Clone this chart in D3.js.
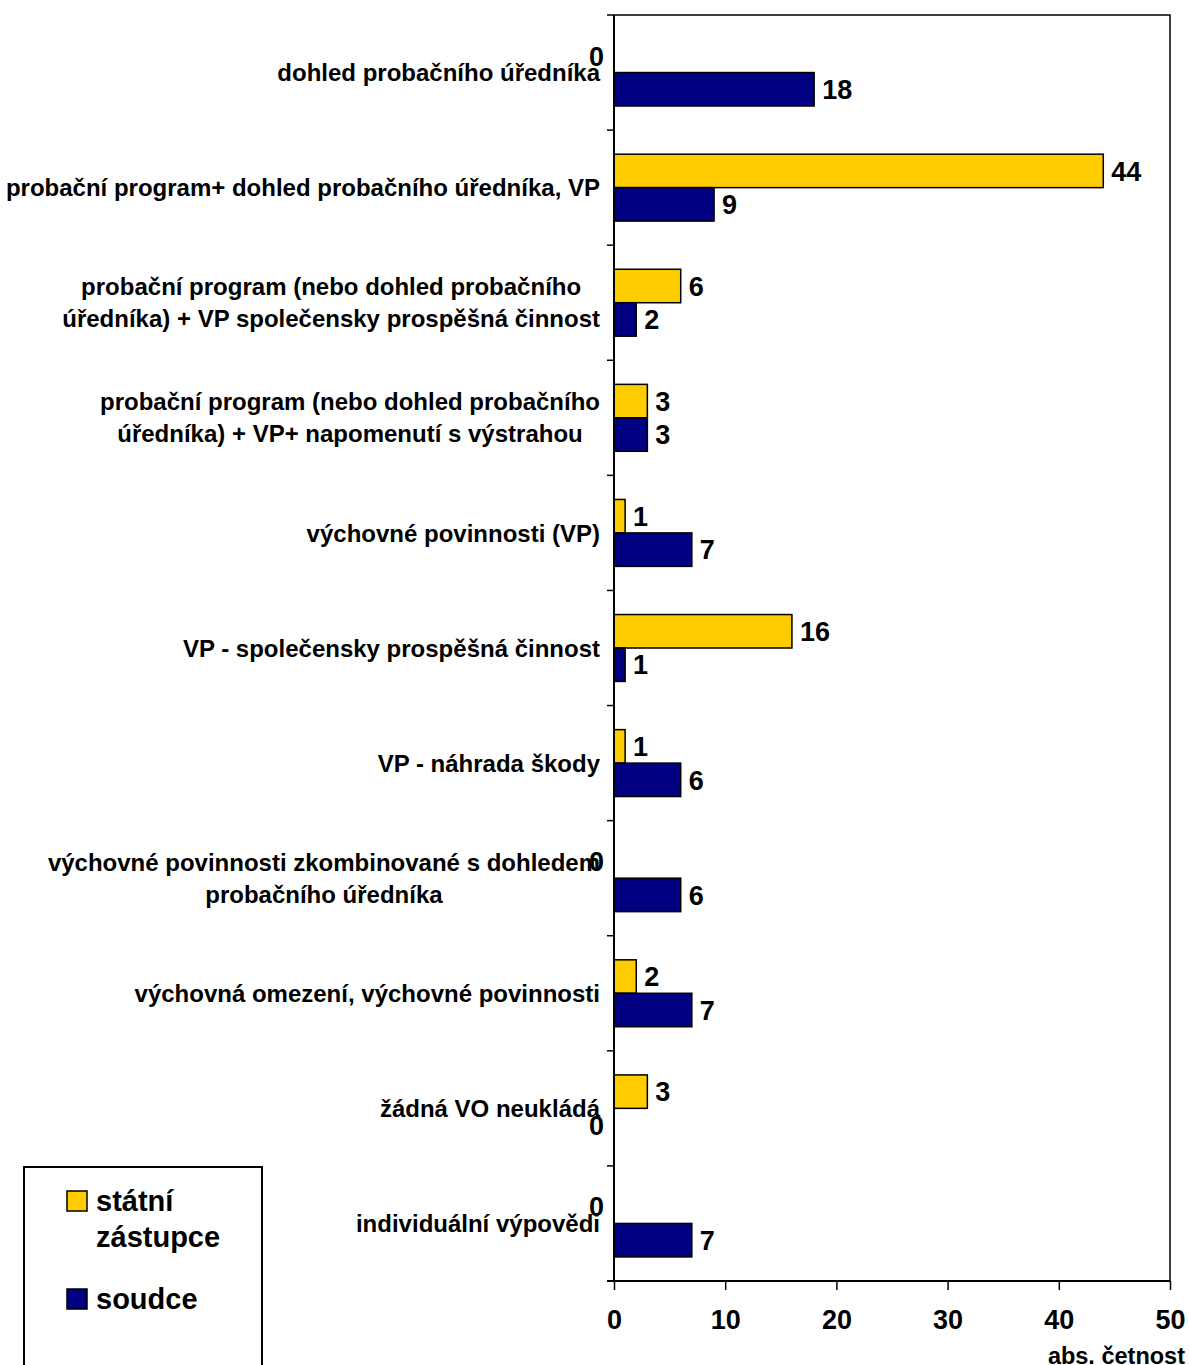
<!DOCTYPE html>
<html><head><meta charset="utf-8">
<script src="https://cdn.jsdelivr.net/npm/d3@7"></script>
<style>body{margin:0;background:#fff}svg{display:block}text{font-family:"Liberation Sans",Arial,sans-serif;font-weight:bold;fill:#000}</style>
</head><body>
<script>
const categories = [
  ["dohled probačního úředníka"],
  ["probační program+ dohled probačního úředníka, VP"],
  ["probační program (nebo dohled probačního","úředníka) + VP společensky prospěšná činnost"],
  ["probační program (nebo dohled probačního","úředníka) + VP+ napomenutí s výstrahou"],
  ["výchovné povinnosti (VP)"],
  ["VP - společensky prospěšná činnost"],
  ["VP - náhrada škody"],
  ["výchovné povinnosti zkombinované s dohledem","probačního úředníka"],
  ["výchovná omezení, výchovné povinnosti"],
  ["žádná VO neukládá"],
  ["individuální výpovědi"]
];
const statniZastupce = [0, 44, 6, 3, 1, 16, 1, 0, 2, 3, 0];
const soudce = [18, 9, 2, 3, 7, 1, 6, 6, 7, 0, 7];
const seriesNames = [["státní","zástupce"], ["soudce"]];
const seriesColors = ["#FFCC00", "#000080"];
const xTicks = [0, 10, 20, 30, 40, 50];
const xTitle = "abs. četnost";

(function(){
const W = 1189, H = 1365;
const svg = d3.select("body").append("svg").attr("width", W).attr("height", H);
const pL = 614, pR = 1170, pT = 15, pB = 1281;

const x = d3.scaleLinear().domain([0, 50]).range([pL, pR]);
const y = d3.scaleBand().domain(d3.range(categories.length)).range([pT, pB]);
const inner = d3.scaleBand().domain([0, 1]).range([0, y.bandwidth()]).paddingOuter(0.72).paddingInner(0);

svg.append("path").attr("d", `M${pL},${pT}H${pR}V${pB}`).attr("fill","none").attr("stroke","#000").attr("stroke-width",1.5);

const series = [statniZastupce, soudce];
series.forEach((vals, si) => {
  const g = svg.append("g");
  vals.forEach((v, i) => {
    const by = y(i) + inner(si);
    const bh = inner.bandwidth();
    if (v > 0) {
      g.append("rect").attr("x", x(0)).attr("y", by).attr("width", x(v) - x(0)).attr("height", bh)
        .attr("fill", seriesColors[si]).attr("stroke", "#000").attr("stroke-width", 1.5);
    }
    const t = g.append("text").attr("y", by + bh/2).attr("dy", "0.36em").attr("font-size", 27).text(v);
    if (v > 0) t.attr("x", x(v) + 8);
    else t.attr("x", x(0) - 10).attr("text-anchor", "end");
  });
});

svg.append("line").attr("x1", pL).attr("x2", pL).attr("y1", pT).attr("y2", pB).attr("stroke","#000").attr("stroke-width",2);
const bounds = d3.range(categories.length + 1).map(i => i < categories.length ? y(i) : pB);
svg.selectAll(".yt").data(bounds).join("line").attr("x1", pL - 7).attr("x2", pL).attr("y1", d => d).attr("y2", d => d).attr("stroke","#000").attr("stroke-width",1.5);

const xAxis = d3.axisBottom(x).tickValues(xTicks).tickSize(9).tickPadding(20);
const gx = svg.append("g").attr("transform", `translate(0,${pB})`).call(xAxis);
gx.select(".domain").attr("stroke-width", 2).attr("d", `M${pL-7},0H${pR}`);
gx.selectAll(".tick line").attr("stroke-width", 1.5);
gx.selectAll(".tick text").attr("font-size", 27).attr("font-family", '"Liberation Sans",Arial,sans-serif').attr("font-weight","bold").attr("fill","#000");
svg.append("text").attr("x", 1185).attr("y", 1364).attr("text-anchor","end").attr("font-size", 23.5).text(xTitle);

const labelRight = 600, lineH = 32;
categories.forEach((lines, i) => {
  const cy = y(i) + y.bandwidth()/2;
  const g = svg.append("g");
  const ts = lines.map((l, k) => g.append("text").attr("font-size", 24).attr("text-anchor","middle")
    .attr("y", cy + (k - (lines.length-1)/2) * lineH).attr("dy","0.36em").text(l));
  const wmax = d3.max(ts, t => t.node().getComputedTextLength());
  ts.forEach(t => t.attr("x", labelRight - wmax/2));
});

svg.append("rect").attr("x", 24).attr("y", 1167).attr("width", 238).attr("height", 230).attr("fill","#fff").attr("stroke","#000").attr("stroke-width",2);
const legY = [1201, 1299];
seriesNames.forEach((nm, si) => {
  svg.append("rect").attr("x", 67).attr("y", legY[si]-10).attr("width", 20).attr("height", 20)
    .attr("fill", seriesColors[si]).attr("stroke","#000").attr("stroke-width",1.5);
  nm.forEach((l, k) => svg.append("text").attr("x", 96).attr("y", legY[si] + k*36).attr("dy","0.36em").attr("font-size", 29).text(l));
});
})();
</script>
</body></html>
